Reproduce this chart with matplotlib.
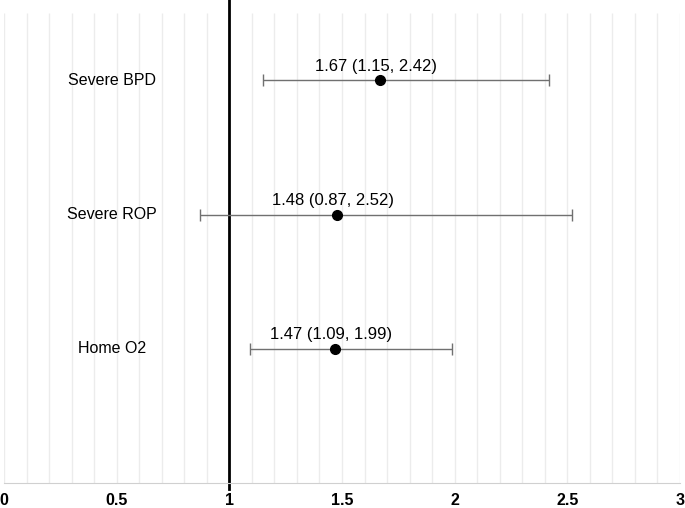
import matplotlib.pyplot as plt
import numpy as np

# Data
outcomes = ['Severe BPD', 'Severe ROP', 'Home O2']
estimates = [1.67, 1.48, 1.47]
lower = [1.15, 0.87, 1.09]
upper = [2.42, 2.52, 1.99]
ticks = [0, 0.5, 1, 1.5, 2, 2.5, 3]
tick_labels = ['0', '0.5', '1', '1.5', '2', '2.5', '3']

plt.rcParams['font.family'] = ['Liberation Sans', 'DejaVu Sans']

fig = plt.figure(figsize=(6.85, 5.08), dpi=100)
ax = fig.add_axes([4 / 685, 25 / 508, 676 / 685, 483 / 508])

ypos = np.arange(len(outcomes), 0, -1)

# light vertical gridlines every 0.1
ax.vlines(np.arange(0, 3.01, 0.1), 0, 3.5, color='#ececec', lw=1, zorder=0)

# reference line at 1
ax.axvline(1, ymin=-0.012, ymax=1, color='black', lw=2, clip_on=False, zorder=2)

est = np.array(estimates)
lo = np.array(lower)
hi = np.array(upper)
ax.errorbar(est, ypos, xerr=[est - lo, hi - est], fmt='o', color='black',
            ecolor='#707070', elinewidth=1, capsize=4, capthick=1,
            markersize=7, zorder=3)

for y, e, l, h, name in zip(ypos, estimates, lower, upper, outcomes):
    ax.text(e - 0.02, y + 0.05, f'{e:.2f} ({l:.2f}, {h:.2f})', ha='center',
            va='bottom', fontsize=12)
    ax.text(0.48, y, name, ha='center', va='center', fontsize=11.5)

ax.set_xlim(0, 3)
ax.set_ylim(0, 3.6)
ax.set_yticks([])
ax.set_xticks(ticks)
ax.set_xticklabels(tick_labels, fontsize=11.5, fontweight='bold')
ax.tick_params(axis='x', length=0, pad=7)
for s in ['top', 'right', 'left']:
    ax.spines[s].set_visible(False)
ax.spines['bottom'].set_color('#d0d0d0')

fig.savefig('out.png', dpi=100)
